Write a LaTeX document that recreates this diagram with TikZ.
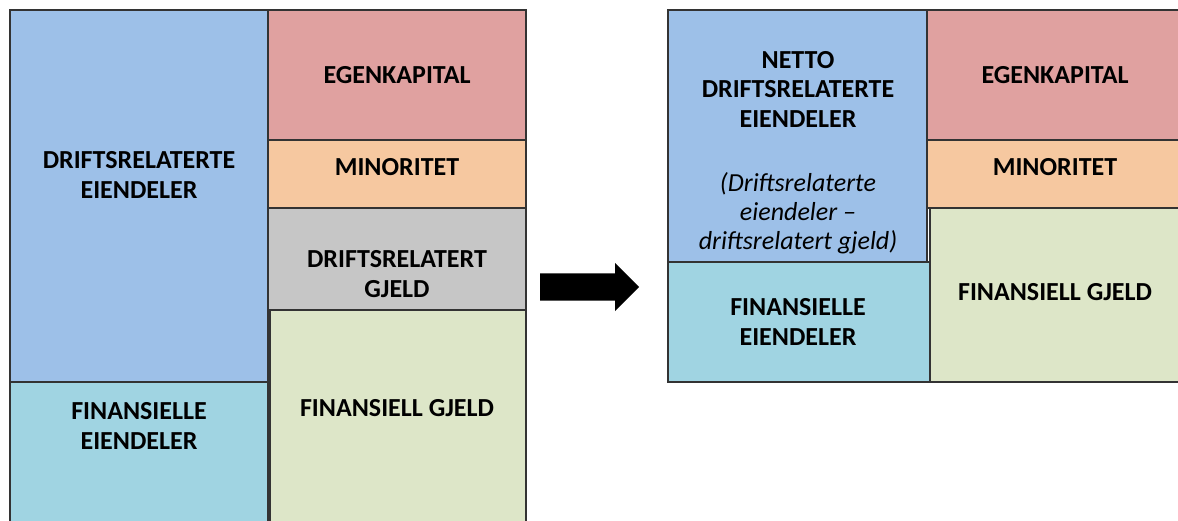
\documentclass[tikz,border=0pt]{standalone}
\usepackage{fontspec}
\setmainfont{Carlito}
\usetikzlibrary{shapes.arrows}
\definecolor{driftblue}{RGB}{157,192,232}
\definecolor{egenred}{RGB}{224,161,160}
\definecolor{minorange}{RGB}{246,200,160}
\definecolor{gjeldgrey}{RGB}{198,198,198}
\definecolor{fingreen}{RGB}{221,230,200}
\definecolor{finblue}{RGB}{160,212,226}
\begin{document}
\begin{tikzpicture}[x=1pt, y=-1pt,
	every node/.style = {align=center, font=\bfseries\fontsize{26}{29.5}\selectfont},
	felt/.style = {draw=black!80, line width=1.2pt}]
	\useasboundingbox (0,0) rectangle (1178,520);
	\clip (0,0) rectangle (1178,520);
	\draw[felt, fill=driftblue] (10,10) rectangle (268,382);
	\draw[felt, fill=finblue] (10,382) rectangle (268,530);
	\draw[felt, fill=egenred] (268,10) rectangle (526,140);
	\draw[felt, fill=minorange] (268,140) rectangle (526,208);
	\draw[felt, fill=gjeldgrey] (268,208) rectangle (526,310);
	\draw[felt, fill=fingreen] (270,310) rectangle (526,530);
	\node (driftsEiendeler) at (139,175) {DRIFTSRELATERTE\\EIENDELER};
	\node (finEiendeler) at (139,426) {FINANSIELLE\\EIENDELER};
	\node (egenkapital) at (397,75) {EGENKAPITAL};
	\node (minoritet) at (397,167) {MINORITET};
	\node (driftsGjeld) at (397,274) {DRIFTSRELATERT\\GJELD};
	\node (finGjeld) at (397,408) {FINANSIELL GJELD};
	\node[single arrow, fill=black, inner sep=13.5pt, single arrow head extend=10.5pt,
		minimum height=99pt, anchor=tail] (pil) at (540,287) {};
	\draw[felt, fill=driftblue] (668,10) rectangle (927,262);
	\draw[felt, fill=finblue] (668,262) rectangle (930,382);
	\draw[felt, fill=egenred] (927,10) rectangle (1190,140);
	\draw[felt, fill=minorange] (927,140) rectangle (1190,208);
	\draw[felt, fill=fingreen] (930,208) rectangle (1190,382);
	\node (nettoDrift) at (798,89) {NETTO\\DRIFTSRELATERTE\\EIENDELER};
	\node[font=\mdseries\itshape\fontsize{26}{29}\selectfont] (forklaring) at (798,213)
		{(Driftsrelaterte\\eiendeler --\\driftsrelatert gjeld)};
	\node (finEiendeler2) at (798,322) {FINANSIELLE\\EIENDELER};
	\node (egenkapital2) at (1055,75) {EGENKAPITAL};
	\node (minoritet2) at (1055,167) {MINORITET};
	\node (finGjeld2) at (1055,292) {FINANSIELL GJELD};
\end{tikzpicture}
\end{document}
